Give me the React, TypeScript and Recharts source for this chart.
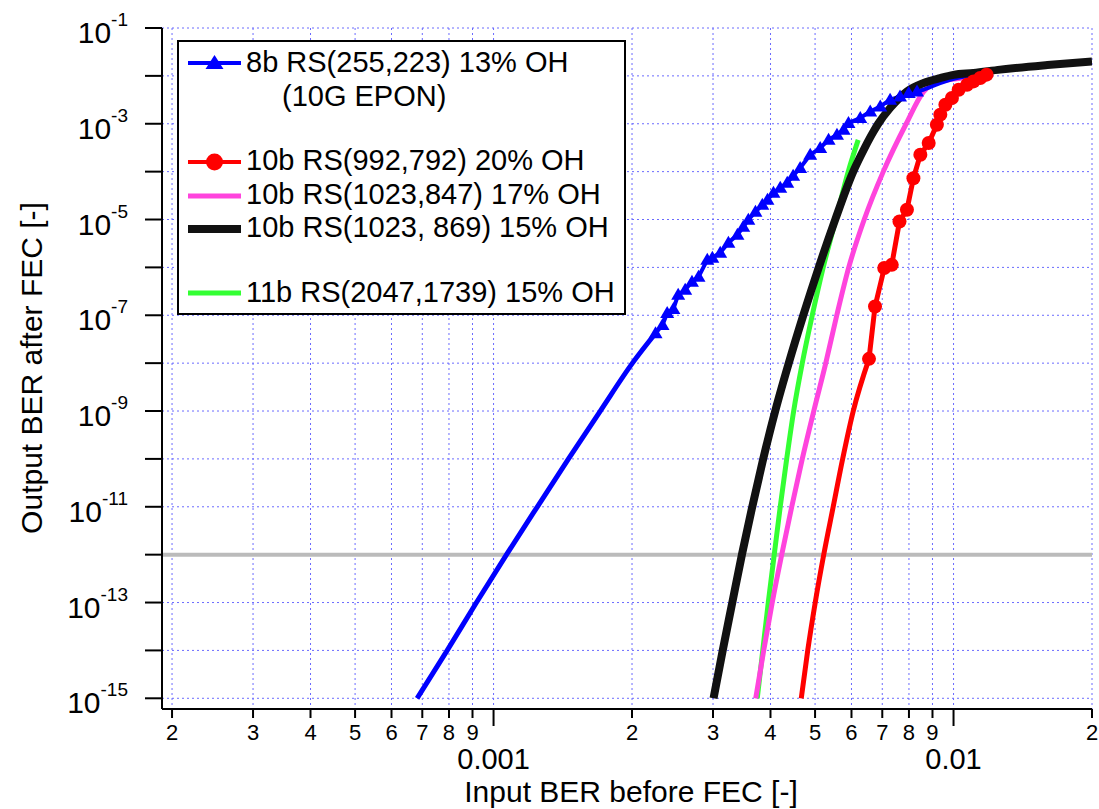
import { LineChart, Line, XAxis, YAxis, CartesianGrid, ReferenceLine } from 'recharts';

// 8b RS(255,223): extrapolated part (no markers) + measured part (triangles) + tail
const blueFitX = [6.82e-4, 7.93e-4, 9.18e-4, 1.067e-3, 1.245e-3, 1.455e-3, 1.706e-3, 2.004e-3, 2.25e-3];
const blueFitY = [1e-15, 1e-14, 1e-13, 1e-12, 1e-11, 1e-10, 1e-9, 1e-8, 4.2e-8];
const blueMeasX = [2.25e-3, 2.33e-3, 2.385e-3, 2.46e-3, 2.52e-3, 2.61e-3, 2.7e-3, 2.79e-3, 2.915e-3, 2.99e-3, 3.11e-3, 3.24e-3, 3.39e-3, 3.49e-3, 3.58e-3, 3.71e-3, 3.84e-3, 3.94e-3, 4.06e-3, 4.2e-3, 4.35e-3, 4.48e-3, 4.64e-3, 4.88e-3, 5.13e-3, 5.35e-3, 5.58e-3, 5.77e-3, 5.91e-3, 6.27e-3, 6.59e-3, 6.93e-3, 7.28e-3, 7.65e-3, 7.99e-3, 8.33e-3];
const blueMeasY = [4.2e-8, 6.3e-8, 1.12e-7, 1.36e-7, 2.67e-7, 3.4e-7, 5.0e-7, 6.35e-7, 1.44e-6, 1.59e-6, 2.02e-6, 3.27e-6, 4.8e-6, 7.05e-6, 9.86e-6, 1.45e-5, 2.03e-5, 2.58e-5, 3.62e-5, 4.6e-5, 5.86e-5, 8.2e-5, 1.19e-4, 2.25e-4, 3.11e-4, 4.63e-4, 5.9e-4, 7.5e-4, 1.04e-3, 1.32e-3, 1.81e-3, 2.3e-3, 3.18e-3, 3.72e-3, 4.39e-3, 4.73e-3];
const blueTailX = [8.33e-3, 8.59e-3, 9.35e-3, 1.017e-2, 1.173e-2];
const blueTailY = [4.73e-3, 5.14e-3, 7.1e-3, 9.0e-3, 1.11e-2];

// 10b RS(992,792): extrapolated part + measured circles
const redFitX = [4.666e-3, 4.82e-3, 5.004e-3, 5.222e-3, 5.475e-3, 5.74e-3, 6.053e-3, 6.55e-3];
const redFitY = [1e-15, 1e-14, 1e-13, 1e-12, 1e-11, 1e-10, 1e-9, 1.23e-8];
const redMeasX = [6.55e-3, 6.75e-3, 7.07e-3, 7.34e-3, 7.63e-3, 7.92e-3, 8.18e-3, 8.47e-3, 8.83e-3, 9.2e-3, 9.36e-3, 9.6e-3, 9.92e-3, 1.026e-2, 1.07e-2, 1.105e-2, 1.143e-2, 1.18e-2];
const redMeasY = [1.23e-8, 1.52e-7, 9.7e-7, 1.13e-6, 9.1e-6, 1.6e-5, 7.3e-5, 2.25e-4, 3.96e-4, 9.5e-4, 1.55e-3, 2.5e-3, 3.45e-3, 5.14e-3, 6.5e-3, 7.66e-3, 9.0e-3, 1.06e-2];

// 10b RS(1023,847)
const magX = [3.715e-3, 3.867e-3, 4.035e-3, 4.231e-3, 4.449e-3, 4.69e-3, 4.968e-3, 5.275e-3, 5.574e-3, 5.918e-3, 6.395e-3, 7.035e-3, 7.89e-3, 8.61e-3, 9.35e-3, 1.07e-2, 1.172e-2];
const magY = [1e-15, 1e-14, 1e-13, 1e-12, 1e-11, 1e-10, 1e-9, 1e-8, 1e-7, 1e-6, 1e-5, 1e-4, 1e-3, 4.7e-3, 7.66e-3, 9.3e-3, 1.1e-2];

// 10b RS(1023,869)
const blackX = [3.008e-3, 3.149e-3, 3.304e-3, 3.467e-3, 3.651e-3, 3.857e-3, 4.096e-3, 4.383e-3, 4.714e-3, 5.093e-3, 5.532e-3, 6.053e-3, 6.3e-3, 6.7e-3, 6.86e-3, 7.28e-3, 7.92e-3, 8.61e-3, 9.35e-3, 1.0e-2, 1.105e-2, 1.263e-2, 1.6e-2, 2.0e-2];
const blackY = [1e-15, 1e-14, 1e-13, 1e-12, 1e-11, 1e-10, 1e-9, 1e-8, 1e-7, 1e-6, 1e-5, 1e-4, 2.25e-4, 6.9e-4, 1e-3, 2.13e-3, 4.73e-3, 7.1e-3, 9.0e-3, 1.05e-2, 1.15e-2, 1.35e-2, 1.68e-2, 2.0e-2];

// 11b RS(2047,1739)
const greenX = [3.744e-3, 3.848e-3, 3.956e-3, 4.076e-3, 4.2e-3, 4.338e-3, 4.492e-3, 4.69e-3, 4.93e-3, 5.208e-3, 5.546e-3, 5.903e-3, 6.205e-3];
const greenY = [1e-15, 1e-14, 1e-13, 1e-12, 1e-11, 1e-10, 1e-9, 1e-8, 1e-7, 1e-6, 1e-5, 1e-4, 4.6e-4];

const limitBER = 1e-12;

const xTicks = [2e-4, 3e-4, 4e-4, 5e-4, 6e-4, 7e-4, 8e-4, 9e-4, 1e-3, 2e-3, 3e-3, 4e-3, 5e-3, 6e-3, 7e-3, 8e-3, 9e-3, 1e-2, 2e-2];
const yTicks = [1e-15, 1e-14, 1e-13, 1e-12, 1e-11, 1e-10, 1e-9, 1e-8, 1e-7, 1e-6, 1e-5, 1e-4, 1e-3, 1e-2, 1e-1];
const majorLabels: Record<string, string> = { '0.001': '0.001', '0.01': '0.01' };

const legendLabels = [
  '8b RS(255,223) 13% OH',
  '10b RS(992,792) 20% OH',
  '10b RS(1023,847) 17% OH',
  '10b RS(1023, 869) 15% OH',
  '11b RS(2047,1739) 15% OH',
];

const pts = (xs: number[], ys: number[]) => xs.map((x, i) => ({ x, y: ys[i] }));

const FONT = '"Liberation Sans", Arial, Helvetica, sans-serif';

function XTick({ x, y, payload }: any) {
  const v = payload.value as number;
  const exp = Math.floor(Math.log10(v) + 1e-9);
  const mant = Math.round(v / Math.pow(10, exp));
  const major = mant === 1;
  return (
    <g>
      <line x1={x} x2={x} y1={y} y2={y + (major ? 17 : 9)} stroke="#000" strokeWidth={2} />
      {major ? (
        <text x={x} y={y + 60} textAnchor="middle" fontSize={29} fill="#000">
          {majorLabels[String(v)] ?? String(v)}
        </text>
      ) : (
        <text x={x} y={y + 31} textAnchor="middle" fontSize={22} fill="#000">
          {mant}
        </text>
      )}
    </g>
  );
}

function YTick({ x, y, payload }: any) {
  const exp = Math.round(Math.log10(payload.value));
  const show = Math.abs(exp) % 2 === 1;
  return (
    <g>
      <line x1={x - 17} x2={x} y1={y} y2={y} stroke="#000" strokeWidth={2} />
      {show && (
        <text x={x - 34} y={y + 15} textAnchor="end" fontSize={30} fill="#000">
          10<tspan dy={-17} fontSize={19}>{`${exp}`}</tspan>
        </text>
      )}
    </g>
  );
}

const triangleDot = (p: any) => {
  const { cx, cy, index } = p;
  if (cx == null || cy == null) return <g key={`t${index}`} />;
  return (
    <path
      key={`t${index}`}
      d={`M${cx},${cy - 7} L${cx + 7},${cy + 5} L${cx - 7},${cy + 5} Z`}
      fill="#0000ff"
    />
  );
};

const circleDot = (p: any) => {
  const { cx, cy, index } = p;
  if (cx == null || cy == null) return <g key={`c${index}`} />;
  return <circle key={`c${index}`} cx={cx} cy={cy} r={7} fill="#ff0000" />;
};

export default function App() {
  const lx1 = 188;
  const lx2 = 241;
  const tx = 246;
  return (
    <div style={{ position: 'absolute', left: 0, top: 0, width: 1099, height: 809, background: '#fff', fontFamily: FONT }}>
      <LineChart width={1099} height={809} margin={{ top: 28, right: 7, left: 12, bottom: 0 }}>
        <CartesianGrid stroke="#6b6bff" strokeDasharray="2 3" strokeWidth={1} />
        <XAxis
          dataKey="x"
          type="number"
          scale="log"
          domain={[1.902e-4, 2e-2]}
          allowDataOverflow
          ticks={xTicks}
          interval={0}
          height={100}
          tickSize={0}
          tickMargin={0}
          tickLine={false}
          axisLine={{ stroke: '#000', strokeWidth: 2 }}
          tick={<XTick />}
        />
        <YAxis
          dataKey="y"
          type="number"
          scale="log"
          domain={[5.976e-16, 1e-1]}
          allowDataOverflow
          ticks={yTicks}
          interval={0}
          width={150}
          tickSize={0}
          tickMargin={0}
          tickLine={false}
          axisLine={{ stroke: '#000', strokeWidth: 2 }}
          tick={<YTick />}
        />
        <ReferenceLine y={limitBER} stroke="#bbbbbb" strokeWidth={4} />
        <Line data={pts(greenX, greenY)} dataKey="y" type="monotone" stroke="#33ff33" strokeWidth={5} dot={false} activeDot={false} isAnimationActive={false} />
        <Line data={pts(magX, magY)} dataKey="y" type="monotone" stroke="#ff44dd" strokeWidth={5} dot={false} activeDot={false} isAnimationActive={false} />
        <Line data={pts(blueFitX, blueFitY)} dataKey="y" type="monotone" stroke="#0000ff" strokeWidth={5} dot={false} activeDot={false} isAnimationActive={false} />
        <Line data={pts(blueTailX, blueTailY)} dataKey="y" type="monotone" stroke="#0000ff" strokeWidth={4} dot={false} activeDot={false} isAnimationActive={false} />
        <Line data={pts(blueMeasX, blueMeasY)} dataKey="y" type="linear" stroke="#0000ff" strokeWidth={4} dot={triangleDot} activeDot={false} isAnimationActive={false} />
        <Line data={pts(blackX, blackY)} dataKey="y" type="monotone" stroke="#111111" strokeWidth={8} dot={false} activeDot={false} isAnimationActive={false} />
        <Line data={pts(redFitX, redFitY)} dataKey="y" type="monotone" stroke="#ff0000" strokeWidth={5} dot={false} activeDot={false} isAnimationActive={false} />
        <Line data={pts(redMeasX, redMeasY)} dataKey="y" type="linear" stroke="#ff0000" strokeWidth={5} dot={circleDot} activeDot={false} isAnimationActive={false} />
      </LineChart>

      <svg width={1099} height={809} style={{ position: 'absolute', left: 0, top: 0, pointerEvents: 'none' }} fontFamily={FONT}>
        {/* axis titles */}
        <text x={631} y={802} textAnchor="middle" fontSize={30} fill="#000">Input BER before FEC [-]</text>
        <text x={42} y={368} textAnchor="middle" fontSize={30} fill="#000" transform="rotate(-90 42 368)">Output BER after FEC [-]</text>

        {/* legend */}
        <rect x={178} y={41} width={447} height={273} fill="#fff" stroke="#000" strokeWidth={2} />
        <line x1={lx1} x2={lx2} y1={63} y2={63} stroke="#0000ff" strokeWidth={4} />
        <path d="M214.5,55 L223.5,69 L205.5,69 Z" fill="#0000ff" />
        <text x={tx} y={72} fontSize={29} fill="#000">{legendLabels[0]}</text>
        <text x={282} y={106} fontSize={29} fill="#000">(10G EPON)</text>

        <line x1={lx1} x2={lx2} y1={162} y2={162} stroke="#ff0000" strokeWidth={4} />
        <circle cx={214.5} cy={162} r={8.5} fill="#ff0000" />
        <text x={tx} y={170} fontSize={29} fill="#000">{legendLabels[1]}</text>

        <line x1={lx1} x2={lx2} y1={196} y2={196} stroke="#ff44dd" strokeWidth={5} />
        <text x={tx} y={204} fontSize={29} fill="#000">{legendLabels[2]}</text>

        <line x1={lx1} x2={lx2} y1={229} y2={229} stroke="#111111" strokeWidth={8} />
        <text x={tx} y={237} fontSize={29} fill="#000">{legendLabels[3]}</text>

        <line x1={lx1} x2={lx2} y1={293} y2={293} stroke="#33ff33" strokeWidth={5} />
        <text x={tx} y={301.5} fontSize={29} fill="#000">{legendLabels[4]}</text>
      </svg>
    </div>
  );
}
